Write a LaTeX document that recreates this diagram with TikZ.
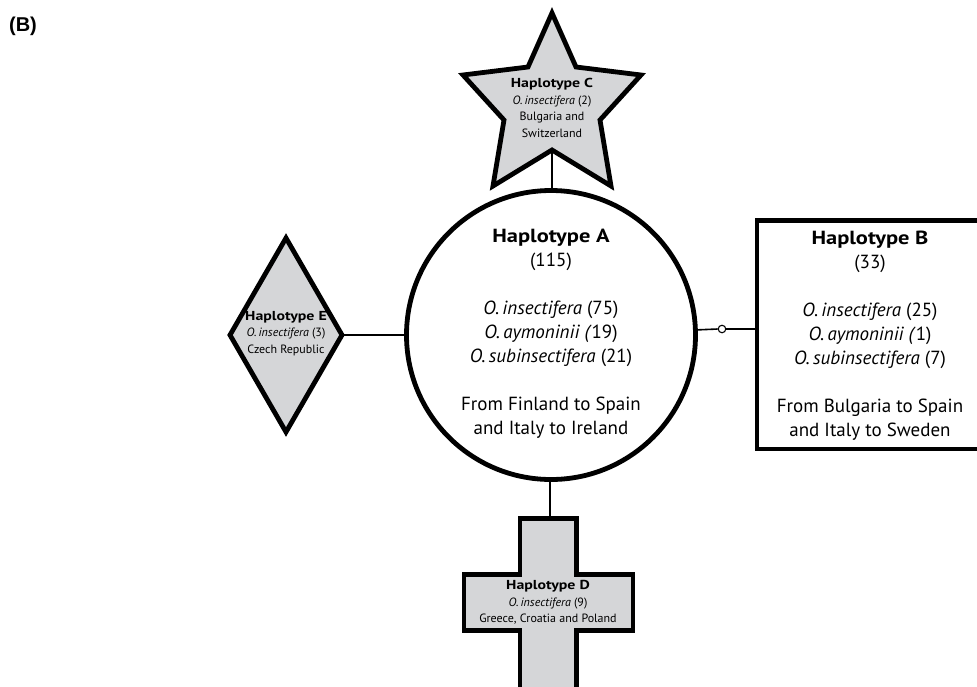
\documentclass[tikz,border=0pt]{standalone}
\usepackage{fontspec}
\setmainfont{PT Sans}[BoldFeatures={FakeStretch=1.18}]
\newfontfamily\smallbold{PT Sans Bold}[FakeStretch=1.22]
\newfontfamily\labelfont{Liberation Sans}
\definecolor{shapegray}{RGB}{213,214,216}
\begin{document}
\begin{tikzpicture}[x=1pt,y=-1pt,
  shapeline/.style={draw=black, line width=4.8pt, line join=miter, fill=shapegray},
  link/.style={draw=black, line width=1.6pt},
  big/.style={font=\fontsize{19}{24}\selectfont, align=center, inner sep=0pt},
  small/.style={font=\fontsize{12}{16.5}\selectfont, align=center, inner sep=0pt},
]
\useasboundingbox (0,0) rectangle (977,686);
\clip (0,0) rectangle (977,686);

% panel label
\node[font=\labelfont\bfseries\fontsize{20}{22}\selectfont, inner sep=0pt] (lbl) at (23,26) {(B)};

% Haplotype A (circle)
\node[draw=black, line width=4.8pt, circle, minimum size=289pt, inner sep=0pt, outer sep=0pt, fill=white] (A) at (551,335) {};

% Haplotype B (box, running off the right edge)
\node[draw=black, line width=4.8pt, rectangle, minimum width=243pt, minimum height=228.5pt, inner sep=0pt, outer sep=0pt, anchor=north west, fill=white] (B) at (757,220.5) {};

% Haplotype C (star)
\draw[shapeline] (552,13) -- (576,67) -- (641,75) -- (600,120) -- (611,186)
  -- (552,150) coordinate (Cbot) -- (493,186) -- (504,120) -- (463,75) -- (528,67) -- cycle;

% Haplotype E (diamond)
\draw[shapeline] (286,238) -- (342,335) coordinate (Eright) -- (286,432) -- (230,335) -- cycle;

% Haplotype D (cross)
\draw[shapeline] (520,518.5) coordinate (Dtl) -- (576.5,518.5) -- (576.5,574.5) -- (633,574.5) -- (633,630.5)
  -- (576.5,630.5) -- (576.5,700) -- (520,700) -- (520,630.5) -- (464,630.5) -- (464,574.5)
  -- (520,574.5) -- cycle;
\coordinate (Dtop) at (550,518.5);

% connectors
\draw[link] (Cbot) -- (Cbot |- A.north);
\draw[link] (Eright) -- (A.west);
\draw[link] (A.south -| Dtop) -- (Dtop);
\node[draw=black, line width=1.1pt, circle, minimum size=7.5pt, inner sep=0pt, fill=white] (m) at (722,329) {};
\draw[link] (A.2.4) -- (m.west);
\draw[link] (m.east) -- (m.east -| B.west);

% texts
\node[big] (tA) at (551,334) {\textbf{Haplotype A}\\(115)\\[24pt]
  \textit{O.\,insectifera} (75)\\\textit{O.\,aymoninii (}19)\\\textit{O.\,subinsectifera} (21)\\[24pt]
  From Finland to Spain\\and Italy to Ireland};
\node[big] (tB) at (870,335.5) {\textbf{Haplotype B}\\(33)\\[24pt]
  \textit{O.\,insectifera} (25)\\\textit{O.\,aymoninii (}1)\\\textit{O.\,subinsectifera} (7)\\[24pt]
  From Bulgaria to Spain\\and Italy to Sweden};
\node[small] (tC) at (552,108) {{\smallbold\fontsize{13}{16.5}\selectfont Haplotype C}\\\textit{O.\,insectifera} (2)\\Bulgaria and\\Switzerland};
\node[small] (tE) at (286,333.5) {{\smallbold\fontsize{13}{16.5}\selectfont Haplotype E}\\\textit{O.\,insectifera} (3)\\Czech Republic};
\node[small] (tD) at (548,602.5) {{\smallbold\fontsize{13}{16.5}\selectfont Haplotype D}\\\textit{O.\,insectifera} (9)\\Greece, Croatia and Poland};
\end{tikzpicture}
\end{document}
